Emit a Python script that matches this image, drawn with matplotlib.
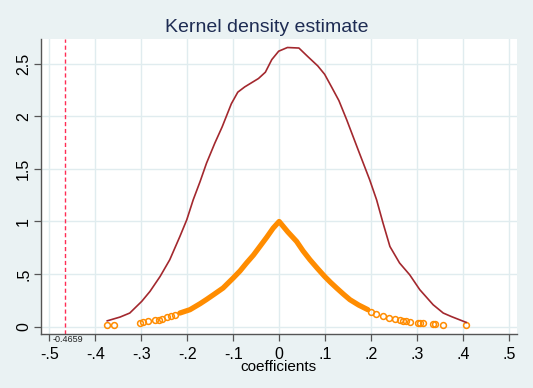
import numpy as np
import matplotlib.pyplot as plt

plt.rcParams['font.family'] = ['Liberation Sans', 'DejaVu Sans']

# kernel density curve
kd_x = [-0.374, -0.346, -0.325, -0.299, -0.281, -0.259, -0.238, -0.216, -0.201,
        -0.187, -0.172, -0.158, -0.140, -0.124, -0.104, -0.090, -0.075, -0.060,
        -0.045, -0.030, -0.016, -0.001, 0.018, 0.043, 0.062, 0.084, 0.099, 0.114,
        0.130, 0.147, 0.172, 0.197, 0.212, 0.226, 0.241, 0.262, 0.284, 0.306,
        0.335, 0.357, 0.375, 0.407]
kd_y = [0.055, 0.091, 0.129, 0.24, 0.335, 0.477, 0.636, 0.857, 1.016,
        1.206, 1.38, 1.555, 1.745, 1.90, 2.12, 2.23, 2.28, 2.32,
        2.36, 2.42, 2.54, 2.62, 2.655, 2.65, 2.57, 2.48, 2.40, 2.28,
        2.15, 1.967, 1.68, 1.396, 1.206, 0.985, 0.762, 0.605, 0.493, 0.351,
        0.208, 0.129, 0.095, 0.040]

# orange points: dense central chain
pt_x = [-0.216, -0.194, -0.172, -0.158, -0.143, -0.122, -0.100, -0.085, -0.071,
        -0.056, -0.042, -0.027, -0.013, 0.0, 0.019, 0.038, 0.052, 0.067, 0.083,
        0.099, 0.112, 0.125, 0.140, 0.154, 0.173, 0.193]
pt_y = [0.129, 0.161, 0.218, 0.258, 0.303, 0.367, 0.462, 0.530, 0.605,
        0.680, 0.762, 0.850, 0.937, 1.0, 0.90, 0.81, 0.72, 0.636, 0.555,
        0.477, 0.420, 0.367, 0.308, 0.256, 0.205, 0.161]

# orange points: sparse tails
tail_x = [-0.375, -0.359, -0.302, -0.296, -0.285, -0.270, -0.262, -0.255, -0.245,
          -0.236, -0.226, 0.200, 0.210, 0.226, 0.240, 0.252, 0.262, 0.270, 0.277,
          0.284, 0.302, 0.307, 0.313, 0.335, 0.340, 0.357, 0.407]
tail_y = [0.018, 0.018, 0.034, 0.040, 0.050, 0.059, 0.066, 0.075, 0.091,
          0.100, 0.115, 0.140, 0.120, 0.097, 0.080, 0.068, 0.059, 0.054, 0.050,
          0.045, 0.034, 0.034, 0.034, 0.025, 0.025, 0.020, 0.015]

xline = -0.4659
xticks = [-0.5, -0.4, -0.3, -0.2, -0.1, 0, 0.1, 0.2, 0.3, 0.4, 0.5]
xlabels = ['-.5', '-.4', '-.3', '-.2', '-.1', '0', '.1', '.2', '.3', '.4', '.5']
yticks = [0, 0.5, 1, 1.5, 2, 2.5]
ylabels = ['0', '.5', '1', '1.5', '2', '2.5']

bg = '#EAF2F3'
fig = plt.figure(figsize=(5.33, 3.88), dpi=100, facecolor=bg)
ax = fig.add_axes([0.0766, 0.139, 0.8934, 0.7605])
ax.set_facecolor('white')

ax.set_xlim(-0.5185, 0.5175)
ax.set_ylim(-0.071, 2.736)
ax.set_xticks(xticks)
ax.set_xticklabels(xlabels, fontsize=11.5)
ax.set_yticks(yticks)
ax.set_yticklabels(ylabels, fontsize=11.5, rotation=90, va='center')
ax.grid(True, color='#E0ECEF', lw=1.0)
ax.set_axisbelow(True)
for s in ['top', 'right']:
    ax.spines[s].set_visible(False)
for s in ['left', 'bottom']:
    ax.spines[s].set_color('#555555')
    ax.spines[s].set_linewidth(1.0)
ax.tick_params(length=5, width=0.9, color='#555555', pad=2)
ax.tick_params(axis='x', pad=4)

# orange markers
orange = '#FF8C00'
ax.plot(pt_x, pt_y, color=orange, lw=3.8, solid_capstyle='round', zorder=3)
ax.plot(tail_x, tail_y, ls='none', marker='o', ms=4.2, mfc='none', mec=orange,
        mew=1.1, zorder=3)

# density curve
ax.plot(kd_x, kd_y, color='#A3282E', lw=1.2, zorder=4)

# reference line
ax.axvline(xline, color='#FF2D55', lw=1.0, ls=(0, (3, 2)), zorder=2)
ax.text(xline + 0.006, -0.08, '%.4f' % xline, fontsize=6.5,
        ha='center', va='top', color='#222222')

ax.set_xlabel('coefficients', fontsize=11, labelpad=-1)
fig.suptitle('Kernel density estimate', fontsize=14, color='#1E2C53', y=0.95)

fig.savefig('out.png', dpi=100, facecolor=bg)
